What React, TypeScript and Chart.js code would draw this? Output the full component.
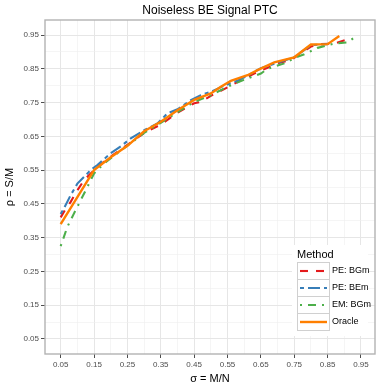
import React, { useEffect, useRef } from "react";
import { Chart, registerables } from "chart.js";

Chart.register(...registerables);

const TITLE = "Noiseless BE Signal PTC";
const X_TITLE = "σ = M/N";
const Y_TITLE = "ρ = S/M";
const LEGEND_TITLE = "Method";

const MAJOR_TICKS = [0.05, 0.15, 0.25, 0.35, 0.45, 0.55, 0.65, 0.75, 0.85, 0.95];
const MINOR_TICKS = [0.1, 0.2, 0.3, 0.4, 0.5, 0.6, 0.7, 0.8, 0.9];

const SERIES_NAMES = ["PE: BGm", "PE: BEm", "EM: BGm", "Oracle"];
const SERIES_COLORS = ["#E41A1C", "#377EB8", "#4DAF4A", "#FF7F00"];

const PE_BGM_X = [0.05, 0.06, 0.08, 0.10, 0.12, 0.14, 0.16, 0.20, 0.25, 0.30, 0.35, 0.40, 0.45, 0.47, 0.50, 0.54, 0.59, 0.63, 0.70, 0.74, 0.77, 0.80, 0.83, 0.87, 0.92];
const PE_BGM_Y = [0.41, 0.427, 0.456, 0.49, 0.52, 0.54, 0.56, 0.59, 0.625, 0.66, 0.685, 0.72, 0.748, 0.752, 0.77, 0.79, 0.816, 0.836, 0.866, 0.876, 0.896, 0.916, 0.923, 0.925, 0.94];

const PE_BEM_X = [0.05, 0.06, 0.08, 0.10, 0.12, 0.14, 0.16, 0.20, 0.23, 0.26, 0.30, 0.34, 0.37, 0.40, 0.44, 0.47, 0.50, 0.54, 0.58, 0.62, 0.65, 0.70, 0.75, 0.80, 0.85];
const PE_BEM_Y = [0.42, 0.437, 0.476, 0.51, 0.53, 0.55, 0.565, 0.60, 0.62, 0.644, 0.668, 0.688, 0.718, 0.73, 0.757, 0.772, 0.782, 0.80, 0.815, 0.835, 0.852, 0.868, 0.884, 0.92, 0.923];

const EM_BGM_X = [0.05, 0.07, 0.09, 0.11, 0.13, 0.15, 0.18, 0.22, 0.26, 0.30, 0.35, 0.40, 0.45, 0.50, 0.55, 0.60, 0.65, 0.67, 0.72, 0.76, 0.78, 0.82, 0.87, 0.91, 0.94];
const EM_BGM_Y = [0.325, 0.382, 0.422, 0.461, 0.50, 0.54, 0.57, 0.60, 0.63, 0.66, 0.69, 0.722, 0.752, 0.772, 0.797, 0.818, 0.836, 0.85, 0.866, 0.886, 0.893, 0.912, 0.925, 0.928, 0.95];

const ORACLE_X = [0.05, 0.10, 0.15, 0.20, 0.25, 0.30, 0.35, 0.40, 0.45, 0.50, 0.53, 0.56, 0.61, 0.64, 0.69, 0.75, 0.80, 0.85, 0.885];
const ORACLE_Y = [0.39, 0.47, 0.55, 0.588, 0.622, 0.665, 0.693, 0.727, 0.758, 0.777, 0.797, 0.814, 0.831, 0.846, 0.869, 0.884, 0.922, 0.923, 0.947];

const SERIES_X = [PE_BGM_X, PE_BEM_X, EM_BGM_X, ORACLE_X];
const SERIES_Y = [PE_BGM_Y, PE_BEM_Y, EM_BGM_Y, ORACLE_Y];
const SERIES_DASH: number[][] = [[8, 8], [4, 4, 12, 4], [2, 6, 8, 6], []];

const FONT = "'Liberation Sans', Arial, Helvetica, sans-serif";

const isMajor = (v: number) => MAJOR_TICKS.some((t) => Math.abs(t - v) < 1e-9);

const panelPlugin = {
  id: "panelBorderLegend",
  afterDraw(chart: any) {
    const { ctx, chartArea } = chart;
    ctx.save();
    // panel border
    ctx.strokeStyle = "#b3b3b3";
    ctx.lineWidth = 1.4;
    ctx.setLineDash([]);
    ctx.strokeRect(chartArea.left, chartArea.top, chartArea.right - chartArea.left, chartArea.bottom - chartArea.top);

    // legend
    const lx = 297;
    const titleY = 255;
    const keyTop = 262;
    const keyH = 17;
    const keyW = 32;
    ctx.fillStyle = "#ffffff";
    ctx.fillRect(lx - 5, 245, 76, 91);
    ctx.fillStyle = "#000000";
    ctx.font = `11px ${FONT}`;
    ctx.textBaseline = "middle";
    ctx.textAlign = "left";
    ctx.fillText(LEGEND_TITLE, lx, titleY);
    chart.data.datasets.forEach((ds: any, i: number) => {
      const top = keyTop + i * keyH;
      ctx.setLineDash([]);
      ctx.strokeStyle = "#d0d0d0";
      ctx.lineWidth = 1;
      ctx.strokeRect(lx + 0.5, top + 0.5, keyW, keyH);
      ctx.strokeStyle = ds.borderColor;
      ctx.lineWidth = ds.borderWidth;
      ctx.setLineDash(ds.borderDash || []);
      ctx.beginPath();
      ctx.moveTo(lx + 3, top + keyH / 2 + 0.5);
      ctx.lineTo(lx + keyW - 2, top + keyH / 2 + 0.5);
      ctx.stroke();
      ctx.setLineDash([]);
      ctx.fillStyle = "#000000";
      ctx.font = `9px ${FONT}`;
      ctx.fillText(ds.label, lx + keyW + 3, top + keyH / 2 + 0.5);
    });
    ctx.restore();
  },
};

function axisCommon(min: number, max: number) {
  return {
    type: "linear" as const,
    min,
    max,
    afterBuildTicks: (scale: any) => {
      scale.ticks = [...MAJOR_TICKS, ...MINOR_TICKS].sort((a, b) => a - b).map((v) => ({ value: v }));
    },
    border: { display: false },
    grid: {
      color: (c: any) => (c.tick && isMajor(c.tick.value) ? "#e6e6e6" : "#efefef"),
      lineWidth: (c: any) => (c.tick && isMajor(c.tick.value) ? 1 : 0.6),
      tickColor: (c: any) => (c.tick && isMajor(c.tick.value) ? "#4d4d4d" : "rgba(0,0,0,0)"),
      tickLength: 4,
      drawTicks: true,
    },
    ticks: {
      autoSkip: false,
      maxRotation: 0,
      minRotation: 0,
      padding: 2,
      color: "#4d4d4d",
      font: { size: 8, family: FONT },
      callback: (value: any) => (isMajor(Number(value)) ? Number(value).toFixed(2) : ""),
    },
  };
}

export default function App() {
  const ref = useRef<HTMLCanvasElement | null>(null);
  useEffect(() => {
    document.body.style.margin = "0";
    if (!ref.current) return;
    const datasets = SERIES_NAMES.map((name, i) => ({
      label: name,
      data: SERIES_X[i].map((x, j) => ({ x, y: SERIES_Y[i][j] })),
      borderColor: SERIES_COLORS[i],
      backgroundColor: SERIES_COLORS[i],
      borderWidth: i === 3 ? 2.4 : 2.1,
      borderDash: SERIES_DASH[i],
      pointRadius: 0,
      tension: 0,
      fill: false,
      order: i === 3 ? 0 : 4 - i,
    }));
    const chart = new Chart(ref.current, {
      type: "line",
      data: { datasets },
      options: {
        responsive: false,
        animation: false,
        layout: { padding: { left: 0, right: 7, top: 0, bottom: 0 } },
        plugins: {
          legend: { display: false },
          tooltip: { enabled: false },
          title: {
            display: true,
            text: TITLE,
            fullSize: false,
            color: "#000",
            font: { size: 12, family: FONT, weight: "normal" },
            padding: { top: 3, bottom: 2.6 },
          },
        },
        scales: {
          x: {
            ...axisCommon(0.003, 0.992),
            afterFit: (s: any) => {
              s.height = 34;
            },
            title: {
              display: true,
              text: X_TITLE,
              color: "#000",
              font: { size: 11, family: FONT },
              padding: { top: 0, bottom: 2.4 },
            },
          },
          y: {
            ...axisCommon(0.0055, 0.9945),
            afterFit: (s: any) => {
              s.width = 45;
            },
            title: {
              display: true,
              text: Y_TITLE,
              color: "#000",
              font: { size: 11, family: FONT },
              padding: { top: 3.4, bottom: 0 },
            },
          },
        },
      } as any,
      plugins: [panelPlugin],
    });
    return () => chart.destroy();
  }, []);
  return (
    <div style={{ width: 382, height: 388 }}>
      <canvas ref={ref} width={382} height={388} style={{ display: "block" }} />
    </div>
  );
}
